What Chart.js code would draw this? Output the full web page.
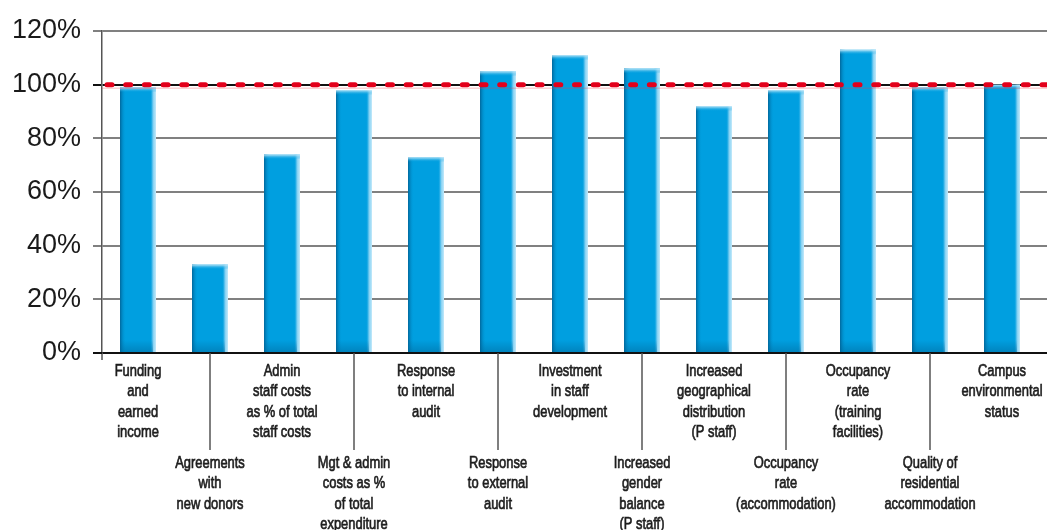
<!DOCTYPE html>
<html>
<head>
<meta charset="utf-8">
<script src="https://cdn.jsdelivr.net/npm/chart.js@4.4.0/dist/chart.umd.min.js"></script>
<style>
  body { margin: 0; background: #fff; }
  #wrap { width: 1047px; height: 530px; }
</style>
</head>
<body>
<div id="wrap"><canvas id="kpiChart" width="1047" height="530"></canvas></div>
<script>
// Categories (multi-line labels), alternating between an upper and a lower row
const categories = [
  ["Funding", "and", "earned", "income"],
  ["Agreements", "with", "new donors"],
  ["Admin", "staff costs", "as % of total", "staff costs"],
  ["Mgt & admin", "costs as %", "of total", "expenditure"],
  ["Response", "to internal", "audit"],
  ["Response", "to external", "audit"],
  ["Investment", "in staff", "development"],
  ["Increased", "gender", "balance", "(P staff)"],
  ["Increased", "geographical", "distribution", "(P staff)"],
  ["Occupancy", "rate", "(accommodation)"],
  ["Occupancy", "rate", "(training", "facilities)"],
  ["Quality of", "residential", "accommodation"],
  ["Campus", "environmental", "status"]
];

// Achievement in % of target
const achieved = [99, 33, 74, 98, 73, 105, 111, 106, 92, 98, 113, 99, 100];

const yTicks = [0, 20, 40, 60, 80, 100, 120];
const target = 100;

const BLUE = "#009fe0";

// same rounding chart.js uses for crisp lines
function align(px, w) {
  return Math.round(px - w / 2) + w / 2;
}

// extends the horizontal gridlines to the right edge of the canvas
const gridExtend = {
  id: "gridExtend",
  beforeDatasetsDraw(chart) {
    const { ctx, chartArea, scales } = chart;
    ctx.save();
    yTicks.forEach(v => {
      const w = 2;
      const y = align(scales.y.getPixelForValue(v), w);
      ctx.strokeStyle = v === target ? "#111" : (v === 0 ? "#111" : "#808080");
      ctx.lineWidth = w;
      ctx.beginPath();
      ctx.moveTo(chartArea.right - 1, y);
      ctx.lineTo(chart.width, y);
      ctx.stroke();
    });
    ctx.restore();
  }
};

// shading on the bars, target line and the two-row category labels
const decorations = {
  id: "decorations",
  afterDatasetsDraw(chart) {
    const { ctx, chartArea, scales } = chart;
    const meta = chart.getDatasetMeta(0);
    ctx.save();

    meta.data.forEach(bar => {
      const left = bar.x - bar.width / 2;
      const right = bar.x + bar.width / 2;
      const top = bar.y;
      const bottom = bar.base;

      // left dark edge
      let g = ctx.createLinearGradient(left, 0, left + 6, 0);
      g.addColorStop(0, "#00679c");
      g.addColorStop(1, "rgba(0,159,224,0)");
      ctx.fillStyle = g;
      ctx.fillRect(left, top, 6, bottom - top);

      // right light edge
      g = ctx.createLinearGradient(right - 6, 0, right, 0);
      g.addColorStop(0, "rgba(0,159,224,0)");
      g.addColorStop(0.5, "#7fcff2");
      g.addColorStop(1, "#c4e9fa");
      ctx.fillStyle = g;
      ctx.fillRect(right - 6, top, 6, bottom - top);

      // top highlight
      g = ctx.createLinearGradient(0, top, 0, top + 5);
      g.addColorStop(0, "rgba(210,238,251,0.95)");
      g.addColorStop(1, "rgba(0,159,224,0)");
      ctx.fillStyle = g;
      ctx.fillRect(left, top, right - left, 5);

      // darker band at the base
      g = ctx.createLinearGradient(0, bottom - 12, 0, bottom);
      g.addColorStop(0, "rgba(0,100,150,0)");
      g.addColorStop(1, "rgba(0,100,150,0.45)");
      ctx.fillStyle = g;
      ctx.fillRect(left, bottom - 12, right - left - 3, 12);
    });

    // target line
    const ty = scales.y.getPixelForValue(target);
    ctx.strokeStyle = "rgba(240,60,70,0.35)";
    ctx.lineWidth = 1;
    ctx.beginPath();
    ctx.moveTo(chartArea.left, ty + 3.5);
    ctx.lineTo(chart.width, ty + 3.5);
    ctx.stroke();

    ctx.strokeStyle = "#e3001b";
    ctx.lineWidth = 5;
    ctx.lineCap = "round";
    ctx.setLineDash([5, 13.7]);
    ctx.beginPath();
    ctx.moveTo(chartArea.left + 5, ty);
    ctx.lineTo(chart.width, ty);
    ctx.stroke();
    ctx.setLineDash([]);
    ctx.lineCap = "butt";

    // category labels (condensed look: squeeze the text horizontally)
    const base = chartArea.bottom;
    ctx.font = "17px 'Liberation Sans', Arial, sans-serif";
    ctx.fillStyle = "#1e1e1e";
    ctx.textAlign = "center";
    ctx.textBaseline = "middle";
    categories.forEach((lines, i) => {
      const x = scales.x.getPixelForValue(i);
      const lower = i % 2 === 1;
      const y0 = base + (lower ? 110.5 : 18.5);
      lines.forEach((ln, k) => {
        ctx.save();
        ctx.translate(x, y0 + k * 20.3);
        ctx.scale(0.76, 1);
        ctx.strokeStyle = "#1e1e1e";
        ctx.lineWidth = 0.7;
        ctx.fillText(ln, 0, 0);
        ctx.strokeText(ln, 0, 0);
        ctx.restore();
      });
      if (lower) {
        ctx.strokeStyle = "#555";
        ctx.lineWidth = 1.5;
        ctx.beginPath();
        ctx.moveTo(x, base);
        ctx.lineTo(x, base + 97);
        ctx.stroke();
      }
    });

    // stubs of the axes beyond the corner
    ctx.strokeStyle = "#555";
    ctx.lineWidth = 1.5;
    ctx.beginPath();
    ctx.moveTo(chartArea.left, base);
    ctx.lineTo(chartArea.left, base + 7);
    ctx.stroke();
    ctx.strokeStyle = "#111";
    ctx.lineWidth = 2;
    ctx.beginPath();
    ctx.moveTo(chartArea.left - 9, align(base, 2));
    ctx.lineTo(chartArea.left, align(base, 2));
    ctx.stroke();

    ctx.restore();
  }
};

const ctx = document.getElementById("kpiChart").getContext("2d");

new Chart(ctx, {
  type: "bar",
  data: {
    labels: categories,
    datasets: [{
      label: "Achieved",
      data: achieved,
      backgroundColor: BLUE,
      borderWidth: 0,
      barPercentage: 0.5,
      categoryPercentage: 1.0
    }]
  },
  options: {
    responsive: false,
    animation: false,
    layout: { padding: { top: 31, right: 9, bottom: 177, left: 0 } },
    plugins: {
      legend: { display: false },
      tooltip: { enabled: false }
    },
    scales: {
      x: {
        grid: { display: false },
        ticks: { display: false },
        border: { display: true, color: "#111", width: 2 },
        afterFit: scale => { scale.height = 0; }
      },
      y: {
        min: 0,
        max: 120,
        afterFit: scale => { scale.width = 102; },
        afterBuildTicks: scale => { scale.ticks = yTicks.map(v => ({ value: v })); },
        ticks: {
          padding: 12,
          color: "#1a1a1a",
          font: { family: "'Liberation Sans', Arial, sans-serif", size: 27 },
          callback: v => v + "%"
        },
        grid: {
          color: c => (c.tick && c.tick.value === target ? "#111" : "#808080"),
          lineWidth: 2,
          tickLength: 9
        },
        border: { display: true, color: "#555", width: 1.5 }
      }
    }
  },
  plugins: [gridExtend, decorations]
});
</script>
</body>
</html>
